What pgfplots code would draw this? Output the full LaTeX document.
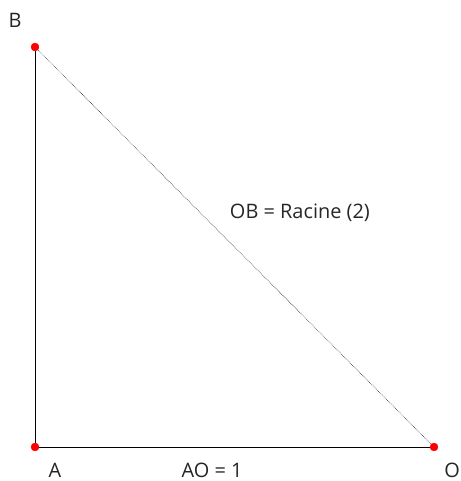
\documentclass[border=0pt]{standalone}
\usepackage{pgfplots}
\pgfplotsset{compat=1.18}
\usepackage{fontspec}
\setmainfont{Open Sans}
\begin{document}
\begin{tikzpicture}
\useasboundingbox (0,0) rectangle (461bp,481bp);
\begin{axis}[
  at={(0,0)}, anchor=south west,
  hide axis, scale only axis,
  width=461bp, height=481bp,
  xmin=-0.0877, xmax=1.0677,
  ymin=-0.085, ymax=1.1175,
  clip=false,
]
\addplot[black, line width=0.9pt] coordinates {(0,1) (0,0) (1,0)};
\addplot[black!85, line width=0.6pt, densely dotted] coordinates {(0,1) (1,0)};
\addplot[only marks, mark=*, mark size=4pt, color=red] coordinates {(0,1) (0,0) (1,0)};
\node[font=\fontsize{20}{24}\selectfont, text=black!85] at (axis cs:-0.050,1.0675) {B};
\node[font=\fontsize{20}{24}\selectfont, text=black!85] at (axis cs:0.050,-0.058) {A};
\node[font=\fontsize{20}{24}\selectfont, text=black!85] at (axis cs:0.444,-0.058) {AO = 1};
\node[font=\fontsize{20}{24}\selectfont, text=black!85, anchor=east, inner xsep=1pt] at (axis cs:1.0677,-0.058) {O};
\node[font=\fontsize{20}{24}\selectfont, text=black!85] at (axis cs:0.664,0.585) {OB = Racine (2)};
\end{axis}
\end{tikzpicture}
\end{document}
